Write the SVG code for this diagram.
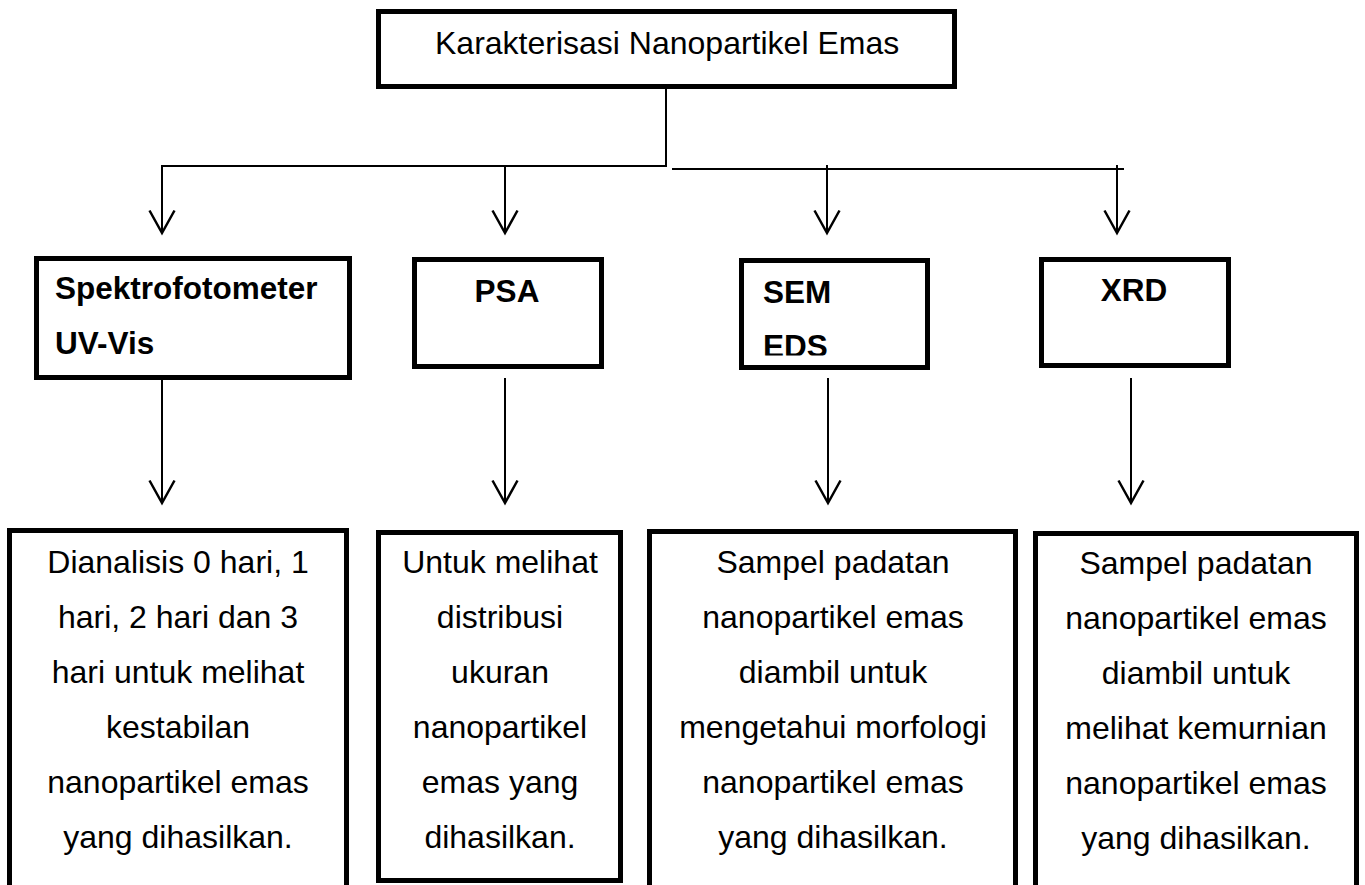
<svg xmlns="http://www.w3.org/2000/svg" width="1365" height="885" viewBox="0 0 1365 885">
  <style>
    .box { fill: #ffffff; stroke: #000000; stroke-width: 5; }
    .t { font-family: "Liberation Sans", Arial, sans-serif; font-size: 32px; fill: #000000; }
    .c { text-anchor: middle; }
    .b { font-weight: bold; font-size: 31.5px; }
    .ln { fill: none; stroke: #000000; stroke-width: 2; }
  </style>
  <defs>
    <marker id="arr" markerUnits="userSpaceOnUse" markerWidth="30" markerHeight="30" viewBox="-20 -12 22 24" refX="0" refY="0" orient="auto">
      <path d="M-18,-10 L0,0 L-18,10" fill="none" stroke="#000000" stroke-width="2"/>
    </marker>
    <clipPath id="edsclip">
      <rect x="740" y="320" width="190" height="35.5"/>
    </clipPath>
  </defs>
  <rect width="1365" height="885" fill="#ffffff"/>

  <g id="connectors">
    <path class="ln" d="M666,89 V166 H161"/>
    <path class="ln" d="M672,169 H1124"/>
    <path class="ln" d="M162,166 V233" marker-end="url(#arr)"/>
    <path class="ln" d="M505,166 V233" marker-end="url(#arr)"/>
    <path class="ln" d="M827,165 V233" marker-end="url(#arr)"/>
    <path class="ln" d="M1117,165 V233" marker-end="url(#arr)"/>
    <path class="ln" d="M162,378 V503" marker-end="url(#arr)"/>
    <path class="ln" d="M505,378 V503" marker-end="url(#arr)"/>
    <path class="ln" d="M828,378 V503" marker-end="url(#arr)"/>
    <path class="ln" d="M1131,378 V503" marker-end="url(#arr)"/>
  </g>

  <g id="root">
    <rect class="box" x="378.5" y="11.5" width="576" height="75"/>
    <text class="t" x="435" y="54">Karakterisasi Nanopartikel Emas</text>
  </g>

  <g id="uvvis">
    <rect class="box" x="36.5" y="258.5" width="313" height="119"/>
    <text class="t b" x="55" y="299">Spektrofotometer</text>
    <text class="t b" x="55" y="354">UV-Vis</text>
  </g>
  <g id="psa">
    <rect class="box" x="414.5" y="259.5" width="187" height="107"/>
    <text class="t b c" x="507" y="302">PSA</text>
  </g>
  <g id="sem">
    <rect class="box" x="741.5" y="260.5" width="186" height="107"/>
    <text class="t b" x="763" y="303">SEM</text>
    <text class="t b" x="763" y="356.5" clip-path="url(#edsclip)">EDS</text>
  </g>
  <g id="xrd">
    <rect class="box" x="1041.5" y="259.5" width="187" height="106"/>
    <text class="t b c" x="1134" y="301">XRD</text>
  </g>

  <g id="desc-uvvis">
    <rect class="box" x="9.5" y="530.5" width="337" height="400"/>
    <text class="t c" x="178" y="573">Dianalisis 0 hari, 1</text>
    <text class="t c" x="178" y="628">hari, 2 hari dan 3</text>
    <text class="t c" x="178" y="683">hari untuk melihat</text>
    <text class="t c" x="178" y="738">kestabilan</text>
    <text class="t c" x="178" y="793">nanopartikel emas</text>
    <text class="t c" x="178" y="848">yang dihasilkan.</text>
  </g>
  <g id="desc-psa">
    <rect class="box" x="378.5" y="532.5" width="242" height="348"/>
    <text class="t c" x="500" y="573">Untuk melihat</text>
    <text class="t c" x="500" y="628">distribusi</text>
    <text class="t c" x="500" y="683">ukuran</text>
    <text class="t c" x="500" y="738">nanopartikel</text>
    <text class="t c" x="500" y="793">emas yang</text>
    <text class="t c" x="500" y="848">dihasilkan.</text>
  </g>
  <g id="desc-sem">
    <rect class="box" x="649.5" y="531.5" width="366" height="400"/>
    <text class="t c" x="833" y="573">Sampel padatan</text>
    <text class="t c" x="833" y="628">nanopartikel emas</text>
    <text class="t c" x="833" y="683">diambil untuk</text>
    <text class="t c" x="833" y="738">mengetahui morfologi</text>
    <text class="t c" x="833" y="793">nanopartikel emas</text>
    <text class="t c" x="833" y="848">yang dihasilkan.</text>
  </g>
  <g id="desc-xrd">
    <rect class="box" x="1035.5" y="533.5" width="321" height="400"/>
    <text class="t c" x="1196" y="574">Sampel padatan</text>
    <text class="t c" x="1196" y="629">nanopartikel emas</text>
    <text class="t c" x="1196" y="684">diambil untuk</text>
    <text class="t c" x="1196" y="739">melihat kemurnian</text>
    <text class="t c" x="1196" y="794">nanopartikel emas</text>
    <text class="t c" x="1196" y="849">yang dihasilkan.</text>
  </g>
</svg>
